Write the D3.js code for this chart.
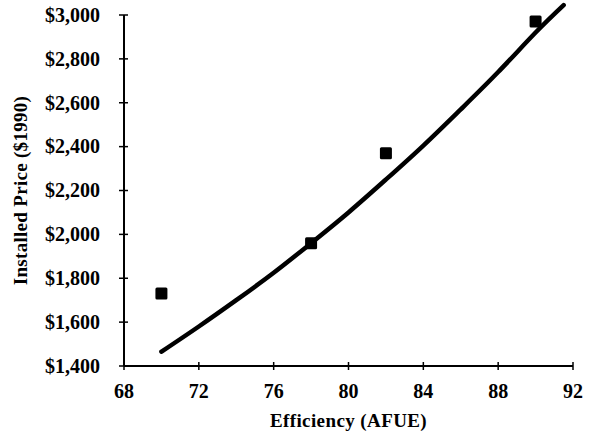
<!DOCTYPE html>
<html><head><meta charset="utf-8">
<script src="https://cdn.jsdelivr.net/npm/d3@7"></script>
<style>body{margin:0;background:#fff}svg{display:block}text{font-family:"Liberation Serif","Times New Roman",serif;font-weight:bold;fill:#000}</style>
</head><body><svg id="c" width="591" height="440"></svg>
<script>
const pointX = [70, 78, 82, 90];
const pointY = [1730, 1960, 2370, 2970];
const curveX = [70, 72, 74, 76, 78, 80, 82, 84, 86, 88, 90, 91.5];
const curveY = [1465, 1580, 1700, 1825, 1960, 2100, 2250, 2405, 2570, 2740, 2920, 3045];
const xTicks = [68, 72, 76, 80, 84, 88, 92];
const yTicks = [1400, 1600, 1800, 2000, 2200, 2400, 2600, 2800, 3000];
const xTitle = "Efficiency (AFUE)";
const yTitle = "Installed Price ($1990)";

const svg = d3.select("#c");
const L = 124, R = 573, T = 15, B = 366;
const x = d3.scaleLinear().domain([68, 92]).range([L, R]);
const y = d3.scaleLinear().domain([1400, 3000]).range([B, T]);
const fmt = d3.format("$,");

// curve
svg.append("path")
  .datum(curveX.map((d,i)=>[d,curveY[i]]))
  .attr("d", d3.line().x(d=>x(d[0])).y(d=>y(d[1])).curve(d3.curveNatural))
  .attr("fill","none").attr("stroke","#000").attr("stroke-width",4.5).attr("stroke-linecap","round");

// points
svg.selectAll("rect.pt").data(pointX.map((d,i)=>[d,pointY[i]])).enter().append("rect")
  .attr("class","pt").attr("x",d=>x(d[0])-6).attr("y",d=>y(d[1])-6).attr("width",12).attr("height",12)
  .attr("rx",1.5).attr("fill","#000");

// axes
const ax = svg.append("g");
ax.append("line").attr("x1",L).attr("x2",R).attr("y1",B).attr("y2",B).attr("stroke","#000").attr("stroke-width",2);
ax.append("line").attr("x1",L).attr("x2",L).attr("y1",T).attr("y2",B).attr("stroke","#000").attr("stroke-width",2);
ax.selectAll("line.xt").data(xTicks).enter().append("line").attr("class","xt")
  .attr("x1",d=>x(d)).attr("x2",d=>x(d)).attr("y1",B-4).attr("y2",B+4).attr("stroke","#000").attr("stroke-width",1.5);
ax.selectAll("line.yt").data(yTicks).enter().append("line").attr("class","yt")
  .attr("x1",L-5).attr("x2",L+4).attr("y1",d=>y(d)).attr("y2",d=>y(d)).attr("stroke","#000").attr("stroke-width",1.5);

ax.selectAll("text.xl").data(xTicks).enter().append("text").attr("class","xl")
  .attr("x",d=>x(d)).attr("y",398).attr("text-anchor","middle").attr("font-size",20).text(d=>d);
ax.selectAll("text.yl").data(yTicks).enter().append("text").attr("class","yl")
  .attr("x",100).attr("y",d=>y(d)).attr("dy","0.34em").attr("text-anchor","end").attr("font-size",20).text(d=>fmt(d));

svg.append("text").attr("x",(L+R)/2).attr("y",427).attr("text-anchor","middle").attr("font-size",19).attr("letter-spacing","0.4").text(xTitle);
svg.append("text").attr("transform",`translate(27,${(T+B)/2}) rotate(-90)`).attr("text-anchor","middle").attr("font-size",19).attr("letter-spacing","0.3").text(yTitle);
</script></body></html>
